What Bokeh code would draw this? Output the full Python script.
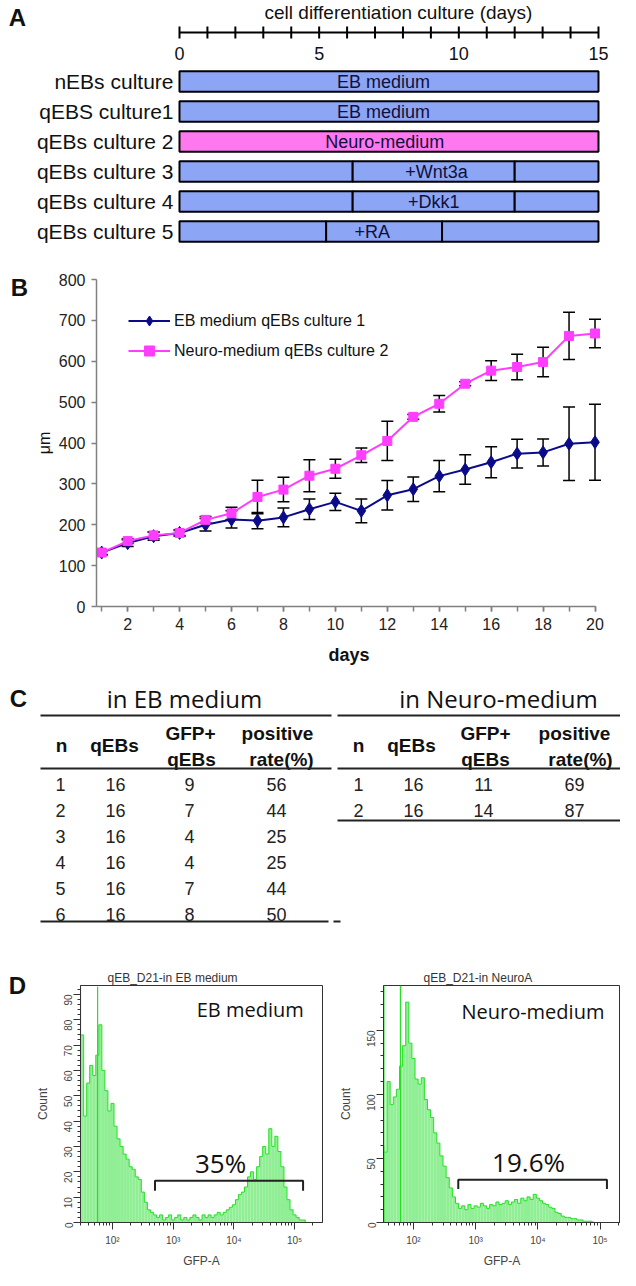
import math
from bokeh.plotting import figure
from bokeh.models import (Range1d, FixedTicker, ColumnDataSource, Whisker, TeeHead,
                          Legend, LegendItem)
from bokeh.layouts import column, row
from bokeh.embed import file_html
from bokeh.resources import INLINE
from bokeh.core.properties import value

SANS = "Liberation Sans"
OPEN = "Open Sans"
INK = "#111111"

# ---------------- Panel A data ----------------
culture_rows = ["nEBs culture", "qEBS culture1", "qEBs culture 2",
                "qEBs culture 3", "qEBs culture 4", "qEBs culture 5"]
timeline_ticks = list(range(0, 16))
timeline_labels = [0, 5, 10, 15]
timeline_title = "cell differentiation culture (days)"
seg_row = [0, 1, 2, 3, 3, 3, 4, 4, 4, 5, 5, 5]
seg_start = [0, 0, 0, 0, 6.2, 12.0, 0, 6.2, 12.0, 0, 5.25, 9.4]
seg_end = [15, 15, 15, 6.2, 12.0, 15, 6.2, 12.0, 15, 5.25, 9.4, 15]
seg_medium = ["EB", "EB", "Neuro", "EB", "EB", "EB", "EB", "EB", "EB", "EB", "EB", "EB"]
bar_text = ["EB medium", "EB medium", "Neuro-medium", "+Wnt3a", "+Dkk1", "+RA"]
bar_text_day = [7.3, 7.3, 7.35, 9.2, 9.1, 6.9]

# ---------------- Panel B data ----------------
days = list(range(1, 21))
day_labels = list(range(2, 21, 2))
um_ticks = list(range(0, 900, 100))
eb_mean = [132, 155, 172, 180, 200, 213, 210, 218, 238, 256, 234, 272, 287, 319, 335, 353, 374, 377, 398, 402]
eb_err = [6, 8, 10, 8, 15, 21, 20, 23, 25, 21, 29, 36, 30, 38, 36, 38, 35, 33, 90, 93]
neuro_mean = [132, 160, 174, 180, 212, 228, 268, 286, 320, 337, 370, 405, 464, 496, 545, 577, 586, 598, 662, 668]
neuro_err = [5, 6, 8, 6, 8, 15, 41, 30, 39, 23, 18, 48, 6, 20, 5, 24, 31, 36, 58, 35]

# ---------------- Panel C data ----------------
eb_n = [1, 2, 3, 4, 5, 6]
eb_qebs = [16, 16, 16, 16, 16, 16]
eb_gfp = [9, 7, 4, 4, 7, 8]
eb_rate = [56, 44, 25, 25, 44, 50]
neuro_n = [1, 2]
neuro_qebs = [16, 16]
neuro_gfp = [11, 14]
neuro_rate = [69, 87]
table_titles = ["in EB medium", "in Neuro-medium"]

# ---------------- Panel D data ----------------
eb_hist_start = 1.45
eb_counts = [93, 74, 42, 55, 62, 58, 66, 78, 60, 52, 44, 47, 38, 33, 30, 27, 25, 22, 21, 18,
             17, 12, 8, 5, 4, 3, 2, 3, 1, 2, 3, 1, 2, 3, 1, 2, 1, 2, 3, 2,
             1, 3, 2, 3, 2, 3, 4, 3, 4, 5, 6, 7, 9, 11, 12, 14, 18, 20, 17, 22,
             26, 30, 27, 37, 30, 34, 28, 22, 14, 9, 5, 3, 2, 1, 1, 0, 0, 0, 0, 0]
eb_spike_log = [1.465, 1.755]
eb_spike_top = [93, 93]
neuro_hist_start = 1.50
neuro_counts = [60, 55, 110, 92, 98, 104, 122, 138, 172, 140, 128, 112, 108, 113, 96, 88, 82, 70, 62, 52,
                44, 35, 27, 20, 15, 11, 13, 10, 14, 11, 13, 12, 15, 13, 11, 14, 13, 16, 14, 15,
                17, 14, 16, 18, 15, 19, 17, 20, 18, 22, 19, 17, 15, 14, 12, 11, 8, 7, 5, 4,
                4, 3, 3, 2, 2, 1, 1, 1, 0, 0, 0, 0, 0, 0, 0, 0, 0]
neuro_spike_log = [1.525, 1.79]
neuro_spike_top = [185, 185]
eb_gate = [10 ** 2.70, 10 ** 5.14]
neuro_gate = [10 ** 2.72, 10 ** 5.11]
gate_pct = ["35%", "19.6%"]
BIN = 0.05


def noalign(p):
    try:
        p.frame_align = False
    except Exception:
        pass
    return p


def bare(width, height, xr, yr):
    p = figure(width=width, height=height, x_range=xr, y_range=yr,
               x_axis_location=None, y_axis_location=None, output_backend="svg",
               toolbar_location=None, min_border=0)
    p.outline_line_color = None
    p.grid.visible = False
    return noalign(p)


def letter_fig(width, height, letter, x, y):
    p = bare(width, height, Range1d(0, width), Range1d(height, 0))
    p.text(x=[x], y=[y], text=[letter], text_font=value(SANS), text_font_size="24px",
           text_font_style="bold", text_align="center", text_baseline="middle", text_color=INK)
    return p


# =============== Panel A (schematic timeline) ===============
# 27.93 px per day, 30 px per row; frame covers whole figure
pa = bare(620, 255, Range1d(-6.408, 15.788), Range1d(5.8, -2.7))
AXIS_ROW = -1.633
t0, t1 = min(timeline_ticks), max(timeline_ticks)
pa.segment(x0=[t0], y0=[AXIS_ROW], x1=[t1], y1=[AXIS_ROW], line_color="black", line_width=2)
pa.segment(x0=timeline_ticks, y0=[AXIS_ROW - 0.2] * len(timeline_ticks),
           x1=timeline_ticks, y1=[AXIS_ROW + 0.2] * len(timeline_ticks),
           line_color="black", line_width=2)
pa.text(x=timeline_labels, y=[-0.933] * len(timeline_labels),
        text=[str(v) for v in timeline_labels], text_font=value(SANS), text_font_size="18px",
        text_align="center", text_baseline="middle", text_color=INK)
pa.text(x=[7.84], y=[-2.3], text=[timeline_title], text_font=value(SANS),
        text_font_size="19px", text_align="center", text_baseline="middle", text_color=INK)
pa.text(x=[-5.8], y=[-2.133], text=["A"], text_font=value(SANS), text_font_size="24px",
        text_font_style="bold", text_align="center", text_baseline="middle", text_color=INK)
pa.text(x=[-0.215] * len(culture_rows), y=list(range(len(culture_rows))), text=culture_rows,
        text_font=value(SANS), text_font_size="21px", text_align="right",
        text_baseline="middle", text_color=INK)
medium_colors = {"EB": "#8CA5F5", "Neuro": "#FF78F0"}
pa.hbar(y=seg_row, left=seg_start, right=seg_end, height=0.68,
        fill_color=[medium_colors[m] for m in seg_medium], line_color="black", line_width=2)
pa.text(x=bar_text_day, y=list(range(len(bar_text))), text=bar_text,
        text_font=value(SANS), text_font_size="18px", text_align="center",
        text_baseline="middle", text_color="#10103a")

# =============== Panel B ===============
lb = letter_fig(32, 417, "B", 19, 32)
pb = figure(width=588, height=417, x_range=Range1d(0.8, 20.25), y_range=Range1d(0, 800),
            output_backend="svg", toolbar_location=None,
            min_border_left=61, min_border_right=19, min_border_top=24, min_border_bottom=66)
noalign(pb)
pb.outline_line_color = None
pb.grid.visible = False
bx = pb.xaxis[0]
bx.ticker = FixedTicker(ticks=day_labels, minor_ticks=days)
bx.bounds = (0.8, 20.0)
by = pb.yaxis[0]
by.ticker = FixedTicker(ticks=um_ticks)
for a in (bx, by):
    a.axis_line_color = "#808080"
    a.axis_line_width = 1.5
    a.major_tick_line_color = "#808080"
    a.major_tick_line_width = 1.5
    a.major_tick_in = 0
    a.major_tick_out = 5
    a.major_label_text_font = SANS
    a.major_label_text_font_size = "16px"
    a.major_label_text_color = "#222222"
    a.axis_label_text_font = SANS
    a.axis_label_text_color = INK
bx.minor_tick_line_color = "#808080"
bx.minor_tick_line_width = 1.5
bx.minor_tick_in = 0
bx.minor_tick_out = 5
bx.major_label_standoff = 6
bx.axis_label = "days"
bx.axis_label_text_font_style = "bold"
bx.axis_label_text_font_size = "18px"
bx.axis_label_standoff = 12
by.minor_tick_line_color = None
by.major_label_standoff = 6
by.axis_label = "μm"
by.axis_label_text_font_style = "normal"
by.axis_label_text_font_size = "16px"
by.axis_label_standoff = 3

EB_COL = "#0B0B8A"
NEURO_COL = "#FF3DFF"
src_eb = ColumnDataSource(dict(x=days, y=eb_mean,
                               lo=[m - e for m, e in zip(eb_mean, eb_err)],
                               hi=[m + e for m, e in zip(eb_mean, eb_err)]))
src_ne = ColumnDataSource(dict(x=days, y=neuro_mean,
                               lo=[m - e for m, e in zip(neuro_mean, neuro_err)],
                               hi=[m + e for m, e in zip(neuro_mean, neuro_err)]))
for s in (src_ne, src_eb):
    pb.add_layout(Whisker(source=s, base="x", lower="lo", upper="hi", line_color="black",
                          line_width=1.5,
                          upper_head=TeeHead(size=12, line_color="black", line_width=1.5),
                          lower_head=TeeHead(size=12, line_color="black", line_width=1.5)))
l1 = pb.line("x", "y", source=src_eb, color=EB_COL, line_width=2)
s1 = pb.scatter("x", "y", source=src_eb, marker="diamond", size=13, color=EB_COL)
l2 = pb.line("x", "y", source=src_ne, color=NEURO_COL, line_width=2)
s2 = pb.scatter("x", "y", source=src_ne, marker="square", size=9, color=NEURO_COL)
legend = Legend(items=[LegendItem(label="EB medium qEBs culture 1", renderers=[l1, s1]),
                       LegendItem(label="Neuro-medium qEBs culture 2", renderers=[l2, s2])],
                location=(32, 243), border_line_color=None, background_fill_alpha=0,
                padding=10, margin=0, glyph_width=42, glyph_height=25, label_height=25,
                spacing=5, label_standoff=4, label_text_font=SANS,
                label_text_font_size="16px", label_text_color=INK)
pb.add_layout(legend)

# =============== Panel C (tables) ===============
pc = bare(620, 280, Range1d(8, 628), Range1d(960, 680))


def row_y(n):
    return 792 + 26 * (n - 1)


pc.text(x=[26], y=[706], text=["C"], text_font=value(SANS), text_font_size="24px",
        text_font_style="bold", text_align="center", text_baseline="middle", text_color=INK)
pc.text(x=[192, 506], y=[706, 706], text=table_titles, text_font=value(OPEN),
        text_font_size="24px", text_align="center", text_baseline="middle", text_color=INK)
hx = [69, 122, 198, 199, 285, 289, 366, 419, 493, 493, 582, 588]
hy = [753, 753, 741, 767, 741, 767, 753, 753, 741, 767, 741, 767]
ht = ["n", "qEBs", "GFP+", "qEBs", "positive", "rate(%)"] * 2
pc.text(x=hx, y=hy, text=ht, text_font=value(SANS), text_font_size="19px",
        text_font_style="bold", text_align="center", text_baseline="middle", text_color=INK)
vx, vy, vt = [], [], []
for cols_x, table in (([68, 123, 197, 284], (eb_n, eb_qebs, eb_gfp, eb_rate)),
                      ([366, 421, 491, 582], (neuro_n, neuro_qebs, neuro_gfp, neuro_rate))):
    for rec in zip(*table):
        for cx, v in zip(cols_x, rec):
            vx.append(cx)
            vy.append(row_y(rec[0]))
            vt.append(str(v))
pc.text(x=vx, y=vy, text=vt, text_font=value(SANS), text_font_size="18px",
        text_align="center", text_baseline="middle", text_color="#222222")
pc.segment(x0=[48, 345, 48, 345, 345, 48, 341], y0=[723, 723, 776, 776, 828, 929, 929],
           x1=[339, 628, 339, 628, 628, 336, 348], y1=[723, 723, 776, 776, 828, 929, 929],
           line_width=2, line_color="#222222")


# =============== Panel D ===============
def facs(width, bl, br, log_lo, log_hi, ymax, yticks, yminor, start, counts, spx, spt,
         title, toff, med_text, med_xy, gate, gate_level, gate_end, pct, pct_xy):
    p = figure(width=width, height=318, x_axis_type="log",
               x_range=Range1d(10 ** log_lo, 10 ** log_hi), y_range=Range1d(0, ymax),
               output_backend="svg", toolbar_location=None, title=title,
               min_border_left=bl, min_border_right=br, min_border_top=33, min_border_bottom=46)
    noalign(p)
    p.title.align = "left"
    p.title.offset = toff
    p.title.text_font = SANS
    p.title.text_font_size = "12px"
    p.title.text_font_style = "normal"
    p.title.text_color = "#333333"
    p.title.standoff = 1
    p.grid.visible = False
    p.outline_line_color = "#333333"
    p.outline_line_width = 1
    centers = [start + BIN * i for i in range(len(counts))]
    p.quad(left=[10 ** (c - BIN / 2) for c in centers], right=[10 ** (c + BIN / 2) for c in centers],
           bottom=0, top=counts, fill_color="#90EE94", line_color=None)
    p.step(x=[10 ** c for c in centers], y=counts, mode="center", line_color="#25E025", line_width=1)
    p.segment(x0=[10 ** c for c in spx], y0=[0] * len(spx), x1=[10 ** c for c in spx], y1=spt,
              line_color="#25E025", line_width=1.2)
    p.line(x=[gate[0], gate[0], gate[1], gate[1]], y=[gate_end, gate_level, gate_level, gate_end],
           line_color="#222222", line_width=2)
    p.text(x=[pct_xy[0]], y=[pct_xy[1]], text=[pct], text_font=value(OPEN), text_font_size="26px",
           text_align="center", text_baseline="middle", text_color=INK)
    p.text(x=[med_xy[0]], y=[med_xy[1]], text=[med_text], text_font=value(OPEN),
           text_font_size="20px", text_align="center", text_baseline="middle", text_color=INK)
    xa = p.xaxis[0]
    majors = [100, 1000, 10000, 100000]
    minors = [m * d for d in (10, 100, 1000, 10000, 100000) for m in range(2, 10)]
    xa.ticker = FixedTicker(ticks=majors, minor_ticks=minors)
    xa.major_label_overrides = {100: "10²", 1000: "10³", 10000: "10⁴", 100000: "10⁵"}
    xa.axis_label = "GFP-A"
    ya = p.yaxis[0]
    ya.ticker = FixedTicker(ticks=yticks, minor_ticks=yminor)
    ya.major_label_orientation = math.pi / 2
    ya.axis_label = "Count"
    for a in (xa, ya):
        a.axis_line_color = "#333333"
        a.major_tick_line_color = "#333333"
        a.minor_tick_line_color = "#333333"
        a.major_tick_in = 0
        a.minor_tick_in = 0
        a.major_tick_out = 7
        a.minor_tick_out = 3
        a.major_label_text_font = SANS
        a.major_label_text_font_size = "10px"
        a.major_label_text_color = "#444444"
        a.axis_label_text_font = SANS
        a.axis_label_text_font_size = "12px"
        a.axis_label_text_font_style = "normal"
        a.axis_label_text_color = "#444444"
    xa.major_label_standoff = 5
    xa.axis_label_standoff = 5
    ya.major_label_standoff = 5
    ya.axis_label_standoff = 8
    return p


ld = letter_fig(30, 318, "D", 17, 33)
dl = facs(304, 50, 12, 1.473, 5.46, 93.5, list(range(0, 100, 10)), list(range(0, 94, 2)),
          eb_hist_start, eb_counts, eb_spike_log, eb_spike_top,
          "qEB_D21-in EB medium", 27, "EB medium", (10 ** 4.27, 84),
          eb_gate, 16.5, 12.5, gate_pct[0], (10 ** 3.78, 23.5))
dr = facs(286, 49, 0, 1.518, 5.328, 185, [0, 50, 100, 150], list(range(0, 190, 10)),
          neuro_hist_start, neuro_counts, neuro_spike_log, neuro_spike_top,
          "qEB_D21-in NeuroA", 40, "Neuro-medium", (10 ** 3.92, 164.7),
          neuro_gate, 33.4, 26.2, gate_pct[1], (10 ** 3.85, 47.4))

layout = column(pa, row(lb, pb), pc, row(ld, dl, dr))
open("out.html", "w").write(file_html(layout, INLINE))
